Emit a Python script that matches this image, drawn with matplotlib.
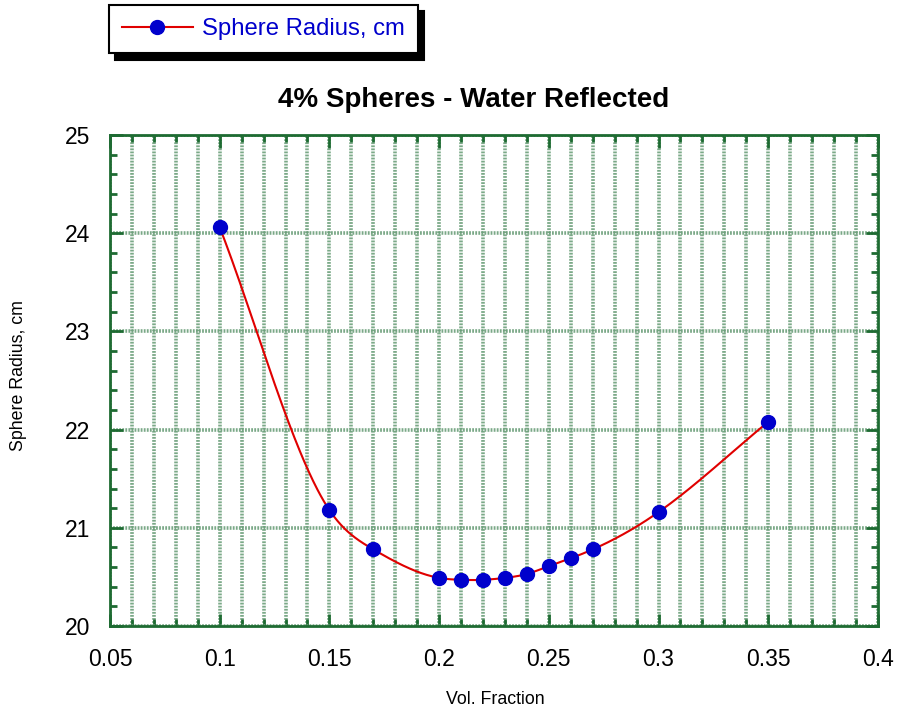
import numpy as np
import matplotlib
matplotlib.use("Agg")
import matplotlib.pyplot as plt
from matplotlib.ticker import MultipleLocator
from matplotlib.lines import Line2D

plt.rcParams['font.family'] = ['Liberation Sans', 'DejaVu Sans']

vol_fraction = [0.10, 0.15, 0.17, 0.20, 0.21, 0.22, 0.23, 0.24, 0.25, 0.26, 0.27, 0.30, 0.35]
radius_cm = [24.06, 21.18, 20.78, 20.49, 20.47, 20.47, 20.49, 20.53, 20.61, 20.69, 20.78, 21.16, 22.08]
x_tick_labels = ['0.05', '0.1', '0.15', '0.2', '0.25', '0.3', '0.35', '0.4']
series_label = "Sphere Radius, cm"
title = "4% Spheres - Water Reflected"
xlabel = "Vol. Fraction"
ylabel = "Sphere Radius, cm"


def clamped_spline(x, y, xs):
    """Cubic spline through the points with end slopes equal to the end secants (drawing only)."""
    x = np.asarray(x, float); y = np.asarray(y, float)
    n = len(x)
    h = np.diff(x)
    d = np.diff(y) / h
    A = np.zeros((n, n)); b = np.zeros(n)
    A[0, 0] = 2 * h[0]; A[0, 1] = h[0]; b[0] = 0.0
    A[-1, -2] = h[-1]; A[-1, -1] = 2 * h[-1]; b[-1] = 0.0
    for i in range(1, n - 1):
        A[i, i - 1] = h[i - 1]
        A[i, i] = 2 * (h[i - 1] + h[i])
        A[i, i + 1] = h[i]
        b[i] = 6 * (d[i] - d[i - 1])
    M = np.linalg.solve(A, b)
    out = np.empty_like(xs)
    for j, xv in enumerate(xs):
        k = min(max(np.searchsorted(x, xv) - 1, 0), n - 2)
        t1 = x[k + 1] - xv; t0 = xv - x[k]
        out[j] = (M[k] * t1**3 / (6 * h[k]) + M[k + 1] * t0**3 / (6 * h[k])
                  + (y[k] / h[k] - M[k] * h[k] / 6) * t1
                  + (y[k + 1] / h[k] - M[k + 1] * h[k] / 6) * t0)
    return out


fig = plt.figure(figsize=(8.98, 7.12), dpi=100)
ax = fig.add_axes([0.1225, 0.1208, 0.8552, 0.6896])

xs = np.linspace(vol_fraction[0], vol_fraction[-1], 500)
ys = clamped_spline(vol_fraction, radius_cm, xs)
green = '#1e6b32'
gridc = '#6c9f7a'

ax.set_xlim(0.05, 0.4)
ax.set_ylim(20, 25)
ax.set_xticks(np.arange(0.05, 0.401, 0.05))
ax.set_xticklabels(x_tick_labels)
ax.xaxis.set_minor_locator(MultipleLocator(0.01))
ax.yaxis.set_major_locator(MultipleLocator(1))
ax.yaxis.set_minor_locator(MultipleLocator(0.2))
gl = dict(color=gridc, linestyle=(0, (0.5, 0.35)), linewidth=2.6, alpha=0.9)
ax.grid(True, which='major', axis='y', **gl)
ax.grid(True, which='both', axis='x', **gl)
ax.set_axisbelow(True)

ax.plot(xs, ys, color='#e00000', linewidth=1.5, zorder=3)
ax.plot(vol_fraction, radius_cm, linestyle='none', marker='o', markersize=10,
        color='#0000cc', zorder=4)

for s in ax.spines.values():
    s.set_color(green)
    s.set_linewidth(2)
ax.tick_params(which='both', direction='in', top=True, right=True, color=green,
               width=2, labelsize=16.5)
ax.tick_params(axis='x', which='both', pad=16)
ax.tick_params(axis='y', which='both', pad=14.5)
ax.tick_params(which='major', length=9)
ax.tick_params(which='minor', length=5)

fig.text(474 / 898, 1 - 100 / 712, title, fontsize=20, fontweight='bold',
         ha='center', va='center')
fig.text(495 / 898, 1 - 700 / 712, xlabel, fontsize=12.8, ha='center', va='center')
fig.text(19 / 898, 1 - 376 / 712, ylabel, fontsize=12.8, ha='center', va='center',
         rotation=90)

h = Line2D([], [], color='#e00000', linewidth=1.5, marker='o', markersize=10,
           markerfacecolor='#0000cc', markeredgecolor='#0000cc')
leg = fig.legend([h], [series_label], loc='upper left',
                 bbox_to_anchor=(109 / 898, 1 - 5 / 712), borderaxespad=0,
                 fontsize=17.2, frameon=True, fancybox=False, handlelength=2.95,
                 handletextpad=0.38, borderpad=0.55, edgecolor='black',
                 shadow={'color': 'black', 'alpha': 1.0, 'ox': 4.5, 'oy': -4.5})
leg.get_frame().set_linewidth(1.5)
for t in leg.get_texts():
    t.set_color('#0000cc')

fig.savefig('out.png', dpi=100)
